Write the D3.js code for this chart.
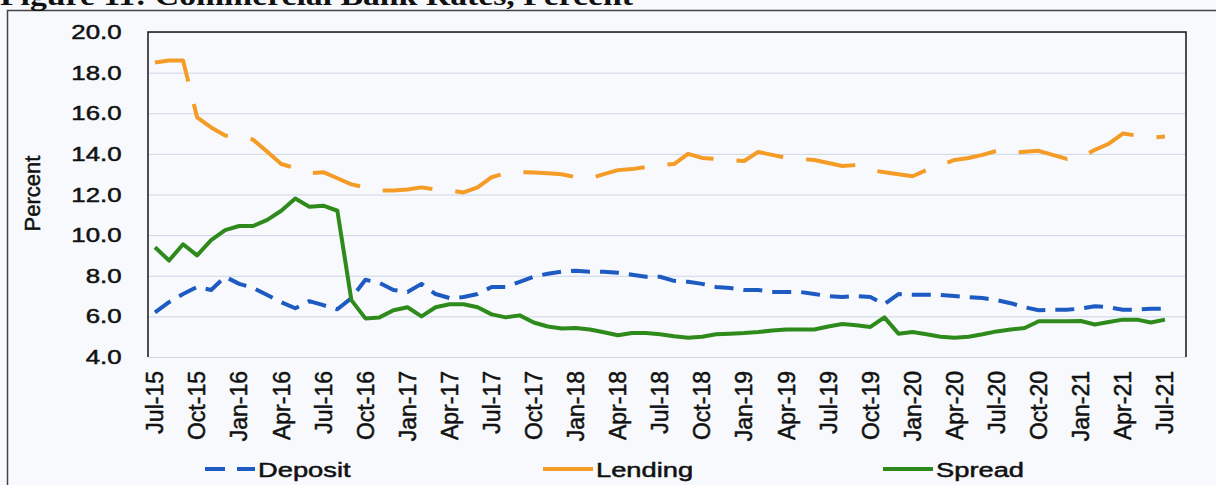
<!DOCTYPE html>
<html>
<head>
<meta charset="utf-8">
<script src="https://cdn.jsdelivr.net/npm/d3@7"></script>
<style>
  body { margin: 0; background: #f7f9fc; }
  svg { display: block; }
  .tick text { font-family: "Liberation Sans", Arial, sans-serif; fill: #111; stroke: #111; stroke-width: 0.5; }
  .legend-label { font-family: "Liberation Sans", Arial, sans-serif; font-size: 21px; fill: #111; stroke: #111; stroke-width: 0.5; }
</style>
</head>
<body>
<svg id="chart" width="1216" height="485"></svg>
<script>
// monthly series, Jul-15 .. Jul-21 (axis runs one month further, to Aug-21)
const deposit = [
  6.2, 6.7, 7.1, 7.45, 7.3, 7.95, 7.6, 7.4, 7.05, 6.7,
  6.4, 6.75, 6.55, 6.35, 6.9, 7.8, 7.65, 7.3, 7.2, 7.6,
  7.1, 6.9, 6.95, 7.1, 7.45, 7.45, 7.7, 7.95, 8.1, 8.2,
  8.25, 8.2, 8.2, 8.15, 8.05, 7.95, 7.95, 7.75, 7.7, 7.6,
  7.45, 7.4, 7.3, 7.3, 7.2, 7.2, 7.2, 7.1, 7.0, 6.95,
  7.0, 6.95, 6.6, 7.1, 7.07, 7.07, 7.05, 7.0, 6.95, 6.9,
  6.8, 6.65, 6.45, 6.3, 6.33, 6.33, 6.38, 6.5, 6.45, 6.33,
  6.33, 6.38, 6.38,
];
const lending = [
  18.5, 18.6, 18.6, 15.8, 15.3, 14.9, 14.85, 14.7, 14.1, 13.5,
  13.3, 13.05, 13.1, 12.8, 12.5, 12.35, 12.2, 12.2, 12.25, 12.35,
  12.25, 12.2, 12.1, 12.35, 12.85, 13.05, 13.1, 13.08, 13.05, 13.0,
  12.85, 12.8, 13.0, 13.2, 13.25, 13.35, 13.45, 13.5, 14.0, 13.8,
  13.75, 13.7, 13.65, 14.1, 13.95, 13.8, 13.75, 13.7, 13.55, 13.4,
  13.45, 13.2, 13.1, 13.0, 12.9, 13.2, 13.45, 13.7, 13.8, 13.95,
  14.15, 14.05, 14.1, 14.15, 13.95, 13.75, 13.8, 14.2, 14.5, 15.0,
  14.9, 14.8, 14.85,
];
const spread = [
  9.4, 8.75, 9.55, 9.0, 9.75, 10.25, 10.45, 10.45, 10.75, 11.2,
  11.8, 11.4, 11.45, 11.2, 6.8, 5.9, 5.95, 6.3, 6.45, 6.0,
  6.45, 6.6, 6.6, 6.45, 6.1, 5.95, 6.05, 5.7, 5.5, 5.4,
  5.43, 5.35, 5.22, 5.07, 5.18, 5.18, 5.12, 5.02, 4.95, 5.0,
  5.12, 5.15, 5.18, 5.23, 5.3, 5.35, 5.35, 5.35, 5.5, 5.62,
  5.56, 5.48, 5.95, 5.15, 5.23, 5.12, 5.0, 4.95, 5.0, 5.12,
  5.26, 5.35, 5.43, 5.76, 5.76, 5.76, 5.77, 5.6, 5.72, 5.84,
  5.84, 5.7, 5.84,
];
const tickLabels = [
  "Jul-15", "Oct-15", "Jan-16", "Apr-16", "Jul-16", "Oct-16", "Jan-17", "Apr-17",
  "Jul-17", "Oct-17", "Jan-18", "Apr-18", "Jul-18", "Oct-18", "Jan-19", "Apr-19",
  "Jul-19", "Oct-19", "Jan-20", "Apr-20", "Jul-20", "Oct-20", "Jan-21", "Apr-21", "Jul-21",
];
const yTicks = [4, 6, 8, 10, 12, 14, 16, 18, 20];
const seriesNames = ["Deposit", "Lending", "Spread"];

const fmt = d3.timeFormat("%b-%y");
const months = d3.timeMonth.range(new Date(2015, 6, 1), new Date(2021, 8, 1)).map(fmt);

const series = [
  { key: "Deposit", values: deposit, color: "#1d5bc2", dash: "19,10" },
  { key: "Lending", values: lending, color: "#f49c26", dash: "50,23" },
  { key: "Spread", values: spread, color: "#2f8a1c", dash: null },
];

const svg = d3.select("#chart");
const margin = { top: 32, right: 30, bottom: 128, left: 148 };
const width = +svg.attr("width");
const height = +svg.attr("height");
const innerWidth = width - margin.left - margin.right;
const innerHeight = height - margin.top - margin.bottom;

// scanned page frame + title (cut off at the top)
svg.append("rect")
  .attr("x", 7.5).attr("y", 10.5)
  .attr("width", 1300).attr("height", 600)
  .attr("fill", "none").attr("stroke", "#444").attr("stroke-width", 1.5);

svg.append("text")
  .attr("x", 0).attr("y", 5)
  .attr("font-family", "Liberation Serif, Times New Roman, serif")
  .attr("font-weight", "bold")
  .attr("font-size", 27)
  .attr("textLength", 633)
  .attr("lengthAdjust", "spacingAndGlyphs")
  .attr("fill", "#111")
  .text("Figure 11: Commercial Bank Rates, Percent");

const g = svg.append("g").attr("transform", `translate(${margin.left},${margin.top})`);

const xScale = d3.scaleBand().domain(months).range([0, innerWidth]);
const xPos = (i) => xScale(months[i]) + xScale.bandwidth() / 2;

const yScale = d3.scaleLinear().domain([4, 20]).range([innerHeight, 0]);

// gridlines
g.append("g")
  .attr("class", "grid")
  .call(d3.axisLeft(yScale).tickValues(yTicks).tickSize(-innerWidth).tickFormat(""))
  .call((s) => s.select(".domain").remove())
  .selectAll("line")
  .attr("stroke", "#cdd6e6")
  .attr("stroke-width", 1);

// y axis
const yAxisG = g.append("g")
  .call(d3.axisLeft(yScale).tickValues(yTicks).tickSize(0).tickFormat(d3.format(".1f")));
yAxisG.select(".domain").remove();
yAxisG.selectAll("text")
  .attr("x", -21)
  .attr("font-size", 20.5)
  .attr("transform", "scale(1.26,1)");

g.append("text")
  .attr("transform", `translate(${40 - margin.left},${innerHeight / 2 - 1}) rotate(-90)`)
  .attr("text-anchor", "middle")
  .attr("font-family", "Liberation Sans, Arial, sans-serif")
  .attr("font-size", 22)
  .attr("fill", "#111")
  .attr("stroke", "#111")
  .attr("stroke-width", 0.5)
  .text("Percent");

// x axis
const xAxisG = g.append("g")
  .attr("transform", `translate(0,${innerHeight})`)
  .call(d3.axisBottom(xScale).tickValues(months.filter((m) => tickLabels.includes(m))).tickSize(0));
xAxisG.select(".domain").remove();
xAxisG.selectAll("text")
  .attr("font-size", 23)
  .attr("text-anchor", "end")
  .attr("transform", "rotate(-90)")
  .attr("x", -14)
  .attr("y", 0)
  .attr("dy", "0.36em");

// plot border: left, top, right
g.append("path")
  .attr("d", `M0,${innerHeight}V0H${innerWidth}V${innerHeight}`)
  .attr("fill", "none")
  .attr("stroke", "#161616")
  .attr("stroke-width", 1.5);

// lines
const lineGenerator = d3.line()
  .x((d, i) => xPos(i))
  .y((d) => yScale(d));

g.selectAll(".line-path")
  .data(series)
  .enter()
  .append("path")
  .attr("class", "line-path")
  .attr("d", (d) => lineGenerator(d.values))
  .attr("fill", "none")
  .attr("stroke", (d) => d.color)
  .attr("stroke-width", 4)
  .attr("stroke-linejoin", "round")
  .attr("stroke-dasharray", (d) => d.dash);

// legend
const legendX = [205, 543, 883];
const legend = svg.append("g").attr("transform", "translate(0,469)");
const items = legend.selectAll(".legend-item")
  .data(series)
  .enter()
  .append("g")
  .attr("class", "legend-item")
  .attr("transform", (d, i) => `translate(${legendX[i]},0)`);

items.append("line")
  .attr("x1", 0).attr("x2", 50)
  .attr("stroke", (d) => d.color)
  .attr("stroke-width", 4)
  .attr("stroke-dasharray", (d) => (d.key === "Deposit" ? "20,12" : null));

items.append("text")
  .attr("class", "legend-label")
  .attr("transform", "translate(53,0) scale(1.3,1)")
  .attr("dy", "0.36em")
  .text((d, i) => seriesNames[i]);
</script>
</body>
</html>
